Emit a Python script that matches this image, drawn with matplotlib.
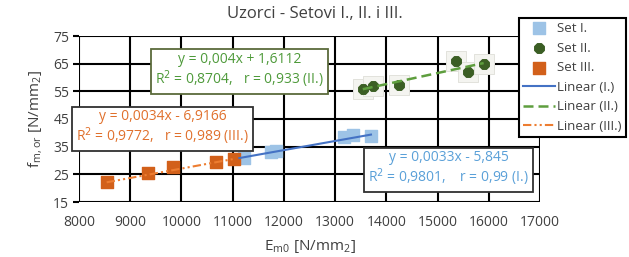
import matplotlib.pyplot as plt
import numpy as np

plt.rcParams['font.family'] = ['Open Sans', 'DejaVu Sans']

# Set I.
x1 = [11230, 11750, 11850, 13180, 13340, 13700]
y1 = [31.0, 33.0, 33.3, 38.6, 39.2, 38.8]
# Set II.
x2 = [13540, 13740, 14240, 15360, 15590, 15900]
y2 = [55.7, 56.9, 57.2, 65.9, 62.0, 64.8]
# Set III.
x3 = [8540, 9350, 9830, 10680, 11020]
y3 = [22.3, 25.6, 27.5, 29.6, 30.4]

# trend line coefficients (slope, intercept) as printed on the chart
fit1 = [0.0033, -5.845]
fit2 = [0.004, 1.6112]
fit3 = [0.0034, -6.9166]

eq1 = 'y = 0,0033x - 5,845\nR$^2$ = 0,9801,    r = 0,99 (I.)'
eq2 = 'y = 0,004x + 1,6112\nR$^2$ = 0,8704,   r = 0,933 (II.)'
eq3 = 'y = 0,0034x - 6,9166\nR$^2$ = 0,9772,   r = 0,989 (III.)'

c_set1 = '#9dc3e6'
c_set2 = '#3b5e24'
c_set3 = '#d2601a'
c_lin1 = '#4472c4'
c_lin2 = '#5e9e3e'
c_lin3 = '#ed7d31'

fig = plt.figure(figsize=(6.29, 2.57), dpi=100)
ax = fig.add_axes([79 / 629, 1 - 202 / 257, (540 - 79) / 629, (202 - 36) / 257])

ax.set_xlim(8000, 17000)
ax.set_ylim(15, 75)
ax.set_xticks(np.arange(8000, 17001, 1000))
ax.set_yticks(np.arange(15, 76, 10))
ax.grid(True, color='black', linewidth=1.5)
ax.set_axisbelow(True)
for s in ax.spines.values():
    s.set_visible(False)
ax.tick_params(axis='y', length=4, width=1.5, color='black', labelsize=10, labelcolor='#404040', pad=3)
ax.tick_params(axis='x', length=0, labelsize=10, labelcolor='#404040', pad=9)

# halo behind set II points
ax.scatter(x2, y2, marker='s', s=190, color='#f4f4f0', edgecolor='#e2e2dc', linewidth=0.7, zorder=2)

ax.scatter(x1, y1, marker='s', s=75, color=c_set1, zorder=3, label='Set I.')
ax.scatter(x2, y2, marker='8', s=55, color=c_set2, zorder=3, label='Set II.')
ax.scatter(x3, y3, marker='s', s=75, color=c_set3, zorder=3, label='Set III.')

xl1 = np.array([min(x1) - 100, max(x1)])
xl2 = np.array([min(x2), max(x2)])
xl3 = np.array([min(x3), max(x3)])
ax.plot(xl1, fit1[0] * xl1 + fit1[1], color=c_lin1, lw=1.5, zorder=4, label='Linear (I.)')
ax.plot(xl2, fit2[0] * xl2 + fit2[1], color=c_lin2, lw=1.8, ls=(0, (4, 2)), zorder=4, label='Linear (II.)')
ax.plot(xl3, fit3[0] * xl3 + fit3[1], color=c_lin3, lw=1.5, ls=(0, (4, 1.5, 1, 1.5, 1, 1.5)), zorder=4,
        label='Linear (III.)')

box = dict(boxstyle='square,pad=0.3', fc='white', ec='#303030', lw=1.3)
ax.text(11140, 62.5, eq2, color='#4e9a3a', fontsize=10, ha='center', va='center', linespacing=1.1, zorder=5,
        bbox=dict(box, ec='#5a6a3a'))
ax.text(9630, 41.7, eq3, color='#e0702c', fontsize=10, ha='center', va='center', linespacing=1.1, zorder=5,
        bbox=box)
ax.text(15220, 26.9, eq1, color='#5aa0d8', fontsize=10, ha='center', va='center', linespacing=1.1, zorder=5,
        bbox=box)

fig.text(0.5, 1 - 14 / 257, 'Uzorci - Setovi I., II. i III.', ha='center', va='center', fontsize=12,
         color='#404040')
ax.set_ylabel(r'f$_{\mathregular{m,or}}$ [N/mm$_{\mathregular{2}}$]', fontsize=11, color='#404040', labelpad=6)
ax.set_xlabel(r'E$_{\mathregular{m0}}$ [N/mm$_{\mathregular{2}}$]', fontsize=11, color='#404040', labelpad=6)

leg = ax.legend(loc='upper left', bbox_to_anchor=(519 / 629, 1 - 18 / 257), bbox_transform=fig.transFigure,
                fontsize=9.5, frameon=True, fancybox=False, borderpad=0.3, labelspacing=0.5,
                handlelength=2.4, handletextpad=0.2, borderaxespad=0, framealpha=1)
leg.get_frame().set_edgecolor('black')
leg.get_frame().set_linewidth(1.5)
for t in leg.get_texts():
    t.set_color('#404040')

fig.savefig('out.png', dpi=100)
